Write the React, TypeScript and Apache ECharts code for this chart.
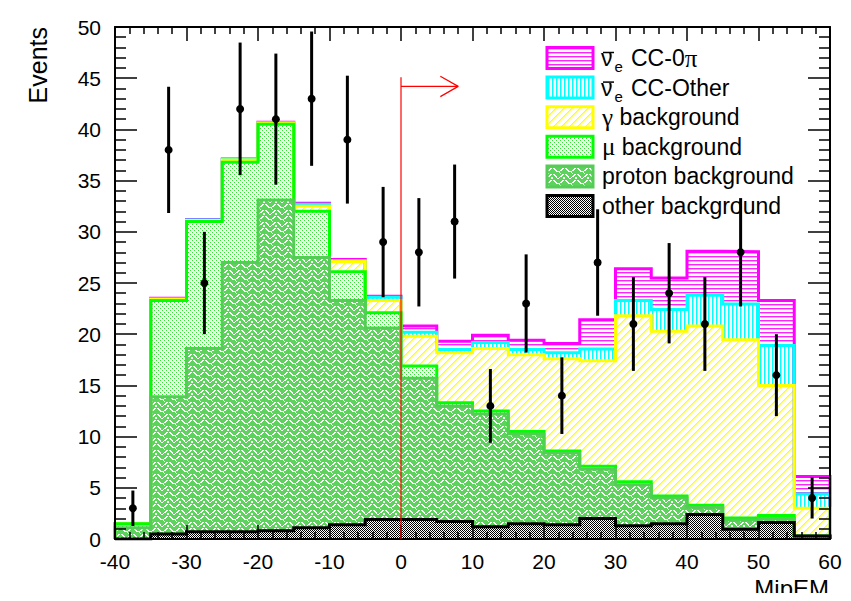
import React, { useEffect, useRef } from "react";
import * as echarts from "echarts";

// Histogram binning (MipEM), lower edges of 5-unit bins
const binLow = [-40, -35, -30, -25, -20, -15, -10, -5, 0, 5, 10, 15, 20, 25, 30, 35, 40, 45, 50, 55];
const BIN_WIDTH = 5;

// Stacked predictions per bin (bottom of stack first)
const otherBkg = [0, 0.5, 0.7, 0.7, 0.8, 1.1, 1.4, 1.9, 1.9, 1.7, 1.2, 1.5, 1.4, 2.0, 1.3, 1.5, 2.4, 0.95, 1.6, 0.3];
const protonBkg = [1.1, 13.4, 17.9, 26.3, 32.3, 26.4, 21.9, 18.7, 13.8, 11.3, 11.0, 8.75, 7.0, 4.8, 4.0, 2.5, 0.7, 0.9, 0.4, 0];
const muBkg = [0.4, 9.4, 12.4, 9.8, 7.4, 4.5, 2.8, 1.5, 1.2, 0.3, 0.3, 0.25, 0.2, 0.3, 0.3, 0.2, 0.2, 0.2, 0.3, 0];
const gammaBkg = [0, 0.1, 0.1, 0.2, 0.1, 0.5, 1.0, 1.2, 2.9, 4.9, 6.1, 7.5, 9.0, 10.3, 16.2, 16.1, 17.5, 17.4, 12.7, 2.7];
const ccOther = [0, 0.05, 0.05, 0.05, 0.05, 0.2, 0.1, 0.3, 0.4, 0.3, 0.6, 0.5, 0.6, 1.15, 1.5, 2.1, 3.0, 3.5, 3.9, 1.4];
const cc0pi = [0, 0.05, 0.05, 0.05, 0.05, 0.1, 0.1, 0.1, 0.6, 0.8, 0.7, 0.9, 0.9, 2.85, 3.1, 3.1, 4.3, 5.1, 4.4, 1.7];

// Observed event counts per bin
const dataCounts = [3, 38, 25, 42, 41, 43, 39, 29, 28, 31, 13, 23, 14, 27, 21, 24, 21, 28, 16, 4];

// Selection cut (MipEM > 0) with its arrow
const cutX = 0;
const cutLineTop = 45.1;
const arrowY = 44.2;
const arrowEnd = 8;

const X_MIN = -40, X_MAX = 60, X_STEP = 10;
const Y_MIN = 0, Y_MAX = 50, Y_STEP = 5;

const FONT = "'Liberation Sans', Arial, Helvetica, sans-serif";
const SERIF = "'Liberation Serif', 'Times New Roman', serif";

type Paint = (ctx: CanvasRenderingContext2D, w: number, h: number) => void;

function tile(w: number, h: number, paint: Paint) {
  const c = document.createElement("canvas");
  c.width = w;
  c.height = h;
  const ctx = c.getContext("2d") as CanvasRenderingContext2D;
  paint(ctx, w, h);
  return { image: c, repeat: "repeat", imageWidth: w, imageHeight: h } as any;
}

function px(ctx: CanvasRenderingContext2D, color: string, cells: number[][]) {
  ctx.fillStyle = color;
  cells.forEach(([x, y]) => ctx.fillRect(x, y, 1, 1));
}

function makePatterns() {
  const hLines = tile(4, 4, (ctx) => {
    ctx.fillStyle = "#ffffff";
    ctx.fillRect(0, 0, 4, 4);
    ctx.fillStyle = "#ff22ff";
    ctx.fillRect(0, 0, 4, 1);
    ctx.fillStyle = "#ffa8ff";
    ctx.fillRect(0, 1, 4, 1);
  });
  const vLines = tile(4, 4, (ctx) => {
    ctx.fillStyle = "#ffffff";
    ctx.fillRect(0, 0, 4, 4);
    ctx.fillStyle = "#00ffff";
    ctx.fillRect(0, 0, 1, 4);
    ctx.fillStyle = "#90ffff";
    ctx.fillRect(1, 0, 1, 4);
  });
  const diag = tile(8, 8, (ctx) => {
    ctx.fillStyle = "#ffffff";
    ctx.fillRect(0, 0, 8, 8);
    for (let i = 0; i < 8; i++) {
      ctx.fillStyle = "#ffff00";
      ctx.fillRect(i, 7 - i, 1, 1);
      ctx.fillStyle = "#ffff60";
      ctx.fillRect(i, (8 - i) % 8, 1, 1);
    }
  });
  const dots = tile(4, 4, (ctx) => {
    ctx.fillStyle = "#ffffff";
    ctx.fillRect(0, 0, 4, 4);
    px(ctx, "#22ee22", [[0, 0], [2, 2]]);
  });
  // basket-weave tile: green ground with white interlocking strokes
  const weave = tile(12, 12, (ctx) => {
    ctx.fillStyle = "#5dd35d";
    ctx.fillRect(0, 0, 12, 12);
    const W = "#ffffff";
    px(ctx, W, [
      [1, 0], [2, 1], [3, 2], [4, 3],
      [2, 0], [3, 1], [4, 2],
      [5, 3], [6, 3],
      [7, 4], [8, 5],
      [10, 0], [9, 1], [8, 2], [7, 3],
      [11, 0], [10, 1], [9, 2],
      [1, 6], [2, 7], [3, 8], [4, 9], [5, 10],
      [2, 6], [3, 7], [4, 8],
      [10, 6], [9, 7], [8, 8], [7, 9], [6, 10],
      [11, 6], [10, 7], [9, 8],
      [0, 9], [11, 9], [0, 10], [11, 10],
    ]);
  });
  const checker = tile(2, 2, (ctx) => {
    ctx.fillStyle = "#ffffff";
    ctx.fillRect(0, 0, 2, 2);
    px(ctx, "#000000", [[0, 0], [1, 1]]);
  });
  return { hLines, vLines, diag, dots, weave, checker };
}

export default function App() {
  const ref = useRef<HTMLDivElement>(null);

  useEffect(() => {
    if (!ref.current) return;
    const chart = echarts.init(ref.current, null, { renderer: "svg" });
    const pat = makePatterns();

    // Stack order, bottom to top
    const layers = [
      { key: "other", values: otherBkg, line: "#000000", fill: pat.checker },
      { key: "proton", values: protonBkg, line: "#55cc55", fill: pat.weave },
      { key: "mu", values: muBkg, line: "#00ff00", fill: pat.dots },
      { key: "gamma", values: gammaBkg, line: "#ffff00", fill: pat.diag },
      { key: "ccOther", values: ccOther, line: "#00ffff", fill: pat.vLines },
      { key: "cc0pi", values: cc0pi, line: "#ff00ff", fill: pat.hLines },
    ];

    const running = binLow.map(() => 0);
    const stacked = layers.map((layer) => {
      const bottom = running.slice();
      layer.values.forEach((v, i) => (running[i] += v));
      const top = running.slice();
      return { ...layer, bottom, top };
    });

    const fillSeries = stacked.map((layer) => ({
      type: "custom",
      name: layer.key + "-fill",
      silent: true,
      z: 2,
      encode: { x: [0, 1], y: [2, 3] },
      data: binLow.map((lo, i) => [lo, lo + BIN_WIDTH, layer.bottom[i], layer.top[i]]),
      renderItem: (_p: any, api: any) => {
        const a = api.coord([api.value(0), api.value(3)]);
        const b = api.coord([api.value(1), api.value(2)]);
        return {
          type: "rect",
          shape: { x: a[0] - 0.3, y: a[1], width: b[0] - a[0] + 0.6, height: b[1] - a[1] },
          style: { fill: layer.fill, stroke: null },
        };
      },
    }));

    // Step outlines: top layer drawn first so lower outlines sit above
    const outlineSeries = stacked.map((layer, li) => {
      const pts: number[][] = [[binLow[0], 0]];
      binLow.forEach((lo, i) => pts.push([lo, layer.top[i]]));
      pts.push([binLow[binLow.length - 1] + BIN_WIDTH, layer.top[layer.top.length - 1]]);
      pts.push([binLow[binLow.length - 1] + BIN_WIDTH, 0]);
      return {
        type: "line",
        name: layer.key + "-outline",
        step: "end",
        silent: true,
        symbol: "none",
        showSymbol: false,
        z: 3 + (layers.length - li),
        data: pts,
        lineStyle: { color: layer.line, width: 3, join: "miter" },
      };
    });

    const redLine = (pts: number[][]) => ({
      type: "line",
      silent: true,
      symbol: "none",
      showSymbol: false,
      z: 15,
      data: pts,
      lineStyle: { color: "#ff0000", width: 1.2 },
    });

    const dataSeries = {
      type: "custom",
      name: "data",
      silent: true,
      z: 20,
      encode: { x: 0, y: 1 },
      data: binLow.map((lo, i) => [lo + BIN_WIDTH / 2, dataCounts[i], Math.sqrt(dataCounts[i])]),
      renderItem: (_p: any, api: any) => {
        const x = api.value(0);
        const y = api.value(1);
        const e = api.value(2);
        const c = api.coord([x, y]);
        const lo = api.coord([x, y - e]);
        const hi = api.coord([x, y + e]);
        return {
          type: "group",
          children: [
            { type: "line", shape: { x1: c[0], y1: lo[1], x2: c[0], y2: hi[1] }, style: { stroke: "#000", lineWidth: 3 } },
            { type: "circle", shape: { cx: c[0], cy: c[1], r: 4 }, style: { fill: "#000" } },
          ],
        };
      },
    };

    const axisLine = { show: true, onZero: false, lineStyle: { color: "#000", width: 2 } };
    const xAxisBase = {
      type: "value",
      min: X_MIN,
      max: X_MAX,
      interval: X_STEP,
      z: 10,
      axisLine,
      axisTick: { show: true, inside: true, length: 14, lineStyle: { color: "#000", width: 1.5 } },
      minorTick: { show: true, splitNumber: 5, length: 7, lineStyle: { color: "#000", width: 1.5 } },
      splitLine: { show: false },
      minorSplitLine: { show: false },
    };
    const yAxisBase = {
      type: "value",
      min: Y_MIN,
      max: Y_MAX,
      interval: Y_STEP,
      z: 10,
      axisLine,
      axisTick: { show: true, inside: true, length: 22, lineStyle: { color: "#000", width: 1.5 } },
      minorTick: { show: true, splitNumber: 5, length: 11, lineStyle: { color: "#000", width: 1.5 } },
      splitLine: { show: false },
      minorSplitLine: { show: false },
    };
    const tickLabel = { fontSize: 21, color: "#000", fontFamily: FONT };

    // Legend rows (graphic), top to bottom
    const legendRows = [
      { fill: pat.hLines, line: "#ff00ff", nu: true, text: "CC-0{s|π}" },
      { fill: pat.vLines, line: "#00ffff", nu: true, text: "CC-Other" },
      { fill: pat.diag, line: "#ffff00", nu: false, text: "{s|γ} background" },
      { fill: pat.dots, line: "#00ff00", nu: false, text: "{s|μ} background" },
      { fill: pat.weave, line: "#55cc55", nu: false, text: "proton background" },
      { fill: pat.checker, line: "#000000", nu: false, text: "other background" },
    ];
    const rowY0 = 58;
    const rowStep = 29.6;
    const swX = 547, swW = 46, swH = 21, txtX = 601;
    const richSerif = { s: { fontFamily: SERIF, fontSize: 25, fill: "#000" } };
    const legendGraphics: any[] = [];
    legendRows.forEach((r, i) => {
      const cy = rowY0 + i * rowStep;
      legendGraphics.push({
        type: "rect",
        shape: { x: swX, y: cy - swH / 2, width: swW, height: swH },
        style: { fill: r.fill, stroke: r.line, lineWidth: 3 },
      });
      if (r.nu) {
        legendGraphics.push({
          type: "text",
          x: txtX,
          y: cy,
          style: { text: "ν", font: `23px ${FONT}`, fill: "#000", verticalAlign: "middle", align: "left" },
        });
        legendGraphics.push({
          type: "line",
          shape: { x1: txtX + 2, y1: cy - 5.5, x2: txtX + 13, y2: cy - 5.5 },
          style: { stroke: "#000", lineWidth: 1.5 },
        });
        legendGraphics.push({
          type: "text",
          x: txtX + 13.5,
          y: cy + 8.5,
          style: { text: "e", font: `15px ${FONT}`, fill: "#000", verticalAlign: "middle", align: "left" },
        });
        legendGraphics.push({
          type: "text",
          x: txtX + 30,
          y: cy,
          style: { text: r.text, font: `23px ${FONT}`, fill: "#000", verticalAlign: "middle", align: "left", rich: richSerif },
        });
      } else {
        legendGraphics.push({
          type: "text",
          x: txtX + 1,
          y: cy,
          style: { text: r.text, font: `23px ${FONT}`, fill: "#000", verticalAlign: "middle", align: "left", rich: richSerif },
        });
      }
    });

    chart.setOption({
      animation: false,
      backgroundColor: "#ffffff",
      grid: { left: 115, right: 21, top: 27, bottom: 62, containLabel: false },
      xAxis: [
        { ...xAxisBase, position: "bottom", axisLabel: { ...tickLabel, margin: 12 } },
        { ...xAxisBase, position: "top", axisLabel: { show: false } },
      ],
      yAxis: [
        { ...yAxisBase, position: "left", axisLabel: { ...tickLabel, margin: 14 } },
        { ...yAxisBase, position: "right", axisLabel: { show: false } },
      ],
      graphic: [
        {
          type: "text",
          x: 38,
          y: 27,
          rotation: Math.PI / 2,
          style: { text: "Events", font: `25px ${FONT}`, fill: "#000", align: "right", verticalAlign: "middle" },
        },
        {
          type: "text",
          x: 829,
          y: 600,
          style: { text: "MipEM", font: `24px ${FONT}`, fill: "#000", align: "right", verticalAlign: "bottom" },
        },
        ...legendGraphics,
      ],
      series: [
        ...fillSeries,
        ...outlineSeries,
        redLine([[cutX, Y_MIN], [cutX, cutLineTop]]),
        redLine([[cutX, arrowY], [arrowEnd, arrowY]]),
        redLine([[arrowEnd - 2.5, arrowY + 1], [arrowEnd, arrowY], [arrowEnd - 2.5, arrowY - 1]]),
        dataSeries,
      ],
    });

    return () => chart.dispose();
  }, []);

  return <div ref={ref} style={{ width: 851, height: 601, margin: -8 }} />;
}
